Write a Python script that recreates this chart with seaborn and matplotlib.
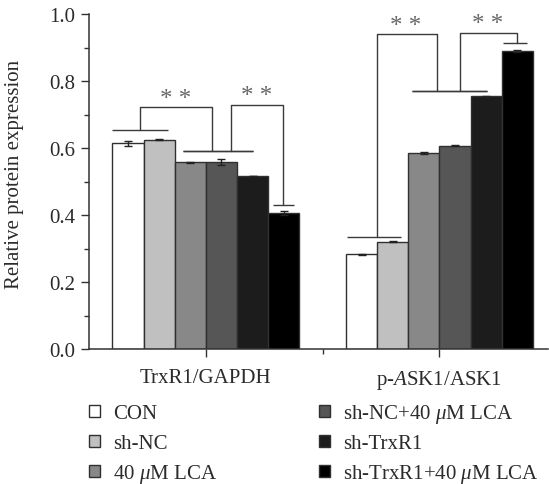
import numpy as np
import pandas as pd
import matplotlib
matplotlib.use("Agg")
import matplotlib.pyplot as plt
import seaborn as sns
from matplotlib.patches import Patch
from matplotlib.container import BarContainer
from matplotlib.ticker import FixedLocator, MultipleLocator

# ---------------- data ----------------
groups = ["TrxR1/GAPDH", "p-$A$SK1/ASK1"]
treatments = ["CON", "sh-NC", "40 $\\mu$M LCA", "sh-NC+40 $\\mu$M LCA",
              "sh-TrxR1", "sh-TrxR1+40 $\\mu$M LCA"]
trxr1_values = [0.614, 0.625, 0.557, 0.558, 0.516, 0.406]
trxr1_errors = [0.008, 0.002, 0.002, 0.008, 0.001, 0.006]
ask1_values = [0.283, 0.320, 0.585, 0.607, 0.754, 0.890]
ask1_errors = [0.002, 0.002, 0.002, 0.002, 0.002, 0.003]
colors = ["#ffffff", "#c0c0c0", "#888888", "#565656", "#1c1c1c", "#000000"]
y_ticks = [0.0, 0.2, 0.4, 0.6, 0.8, 1.0]

# significance brackets (offsets relative to group centre, y in data units)
brackets = [
    (0, (-0.400, -0.163, 0.655), (-0.096, 0.201, 0.591), -0.281, 0.7215, 0.026, -0.128, 0.757),
    (0, (-0.096, 0.201, 0.591), (0.289, 0.378, 0.430), 0.108, 0.729, 0.332, 0.219, 0.766),
    (1, (-0.396, -0.164, 0.335), (-0.116, 0.203, 0.771), -0.268, 0.940, -0.009, -0.143, 0.975),
    (1, (-0.116, 0.203, 0.771), (0.274, 0.377, 0.913), 0.089, 0.943, 0.333, 0.205, 0.980),
]

df = pd.DataFrame({
    "group": [groups[0]] * 6 + [groups[1]] * 6,
    "treatment": treatments * 2,
    "value": trxr1_values + ask1_values,
})
errors = {groups[0]: trxr1_errors, groups[1]: ask1_errors}

# ---------------- style ----------------
sns.set_style("ticks")
plt.rcParams["font.family"] = ["Liberation Serif", "DejaVu Serif"]
plt.rcParams["mathtext.fontset"] = "custom"
plt.rcParams["mathtext.rm"] = "Liberation Serif"
plt.rcParams["mathtext.it"] = "Liberation Serif:italic"
FS = 15
TXT = "#2b2b2b"
AX = "#333333"

fig = plt.figure(figsize=(5.49, 4.85), dpi=100)
ax = fig.add_axes([89 / 549, 1 - 350 / 485, (548 - 89) / 549, (350 - 15) / 485])

sns.barplot(data=df, x="group", y="value", hue="treatment", order=groups,
            hue_order=treatments, palette=colors, saturation=1,
            edgecolor="#303030", linewidth=1.0, errorbar=None, width=0.8,
            gap=0, legend=False, ax=ax)

# error bars
bar_conts = [c for c in ax.containers if isinstance(c, BarContainer)]
for j, cont in enumerate(bar_conts):
    for i, bar in enumerate(cont):
        xc = bar.get_x() + bar.get_width() / 2
        yv = bar.get_height()
        e = errors[groups[i]][j]
        ax.errorbar(xc, yv, yerr=e, fmt="none", ecolor="#222222",
                    elinewidth=1.0, capsize=3.2, capthick=1.0, zorder=5)

# brackets
lc = "#3a3a3a"
for g, left_line, right_line, xl, ytop, xr, xs, ys in brackets:
    for (a, b, y) in (left_line, right_line):
        ax.plot([g + a, g + b], [y, y], color=lc, lw=1.0, solid_capstyle="butt", zorder=6)
    ax.plot([g + xl, g + xl, g + xr, g + xr],
            [left_line[2], ytop, ytop, right_line[2]],
            color=lc, lw=1.0, zorder=6)
    ax.text(g + xs, ys - 0.010, "* *", ha="center", va="center", fontsize=18,
            color="#666666", zorder=7)

# axes
ax.set_xlim(-0.5, 1.465)
ax.set_ylim(0, 1.0)
ax.set_yticks(y_ticks)
ax.set_yticklabels([f"{t:.1f}" for t in y_ticks])
ax.yaxis.set_minor_locator(MultipleLocator(0.1))
ax.xaxis.set_minor_locator(FixedLocator([0.5]))
ax.set_xlabel("")
ax.set_ylabel("Relative protein expression", fontsize=FS, color=TXT)
ax.yaxis.set_label_coords(-0.142, 0.525)
ax.tick_params(axis="both", which="major", length=5.8, width=1.0, color=AX,
               labelsize=FS, labelcolor=TXT, direction="out")
ax.tick_params(axis="both", which="minor", length=3.6, width=1.0, color=AX,
               direction="out")
ax.tick_params(axis="x", which="major", pad=8)
ax.tick_params(axis="y", which="major", pad=4)
for s in ("top", "right"):
    ax.spines[s].set_visible(False)
for s in ("left", "bottom"):
    ax.spines[s].set_color(AX)
    ax.spines[s].set_linewidth(1.1)

# legend: two columns, three rows, one entry per legend for exact alignment
handles = [Patch(facecolor=c, edgecolor="#303030", linewidth=1.0) for c in colors]
row_y = [415, 445, 475]
col_x = [89, 319]
common = dict(loc="center left", frameon=False, borderpad=0, borderaxespad=0,
              handlelength=0.55, handleheight=0.55, handletextpad=0.62,
              fontsize=FS, labelcolor=TXT)
for k, (h, lab) in enumerate(zip(handles, treatments)):
    c, r = divmod(k, 3)
    fig.legend([h], [lab], bbox_to_anchor=(col_x[c] / 549, 1 - row_y[r] / 485), **common)

fig.savefig("out.png", dpi=100)
